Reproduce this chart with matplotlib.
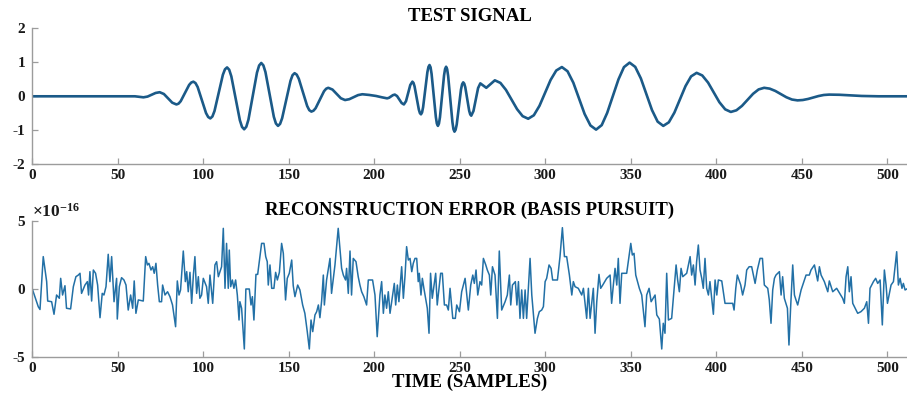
import matplotlib
matplotlib.use("Agg")
import matplotlib.pyplot as plt

plt.rcParams['font.family'] = ['Liberation Serif', 'DejaVu Serif']
plt.rcParams['font.weight'] = 'bold'
plt.rcParams['mathtext.fontset'] = 'custom'
plt.rcParams['mathtext.rm'] = 'Liberation Serif'
plt.rcParams['mathtext.bf'] = 'Liberation Serif:bold'

# ---------------- data ----------------
sig_t = [0, 56, 60, 65, 67.4, 69.75, 72.1,
         74.5, 76.95, 79.4, 81.85,
         84.3, 85.54, 86.8, 89.25, 91.7, 92.96,
         94.2, 95.44, 96.7, 99.15, 101.6, 102.86,
         104.1, 105.33, 106.55, 109.0, 111.45, 112.67,
         113.9, 115.15, 116.4, 118.9, 121.4, 122.65,
         123.9, 125.15, 126.4, 128.9, 131.4, 132.65,
         133.9, 135.13, 136.35, 138.8, 141.25, 142.47,
         143.7, 144.91, 146.1, 148.55, 151.0, 152.19,
         153.4, 154.63, 155.85, 158.3, 160.75, 161.97,
         163.2, 164.44, 165.7, 168.15, 170.6, 171.86,
         173.1, 175.55, 178.0, 180.45,
         182.9, 185.4, 187.95, 190.5,
         193, 197, 201, 204.5,
         207.5, 208.6, 209.75, 210.9,
         212, 213.3, 214.65, 216.0,
         217.3, 218.55, 219.8, 221.05,
         222.3, 222.93, 223.55, 224.8, 226.05, 226.68,
         227.3, 227.93, 228.55, 229.8, 231.05, 231.68,
         232.3, 232.91, 233.5, 234.75, 236.0, 236.59,
         237.2, 237.8, 238.4, 239.6, 240.8, 241.4,
         242, 242.61, 243.2, 244.45, 245.7, 246.29,
         246.9, 247.54, 248.2, 249.45, 250.7, 251.36,
         252, 252.59, 253.2, 254.35, 255.5, 256.11,
         256.7, 258.0, 259.35, 260.7,
         262, 263.75, 265.5, 268,
         270.5, 273.75, 277.0, 280.25, 283.5, 286.75,
         290, 293.3, 296.6, 299.85, 303.1, 306.4,
         309.7, 313.0, 316.4, 319.7, 323.0, 326.4,
         329.7, 333.0, 336.2, 339.5, 342.8, 346.0,
         349.3, 352.6, 355.9, 359.15, 362.4, 365.7,
         369, 372.25, 375.5, 378.75, 382.0, 385.25,
         388.5, 391.8, 395.2, 398.5, 401.8, 405.2,
         408.5, 411.75, 415.0, 418.25, 421.5, 424.75,
         428, 431.25, 434.5, 437.75, 441, 444.25,
         447.5, 450.6, 453.7, 456.75, 459.8, 462.9,
         466, 472, 478, 485, 495, 511]
sig_v = [0, 0, 0, -0.03, -0.008, 0.045, 0.098,
         0.12, 0.068, -0.06, -0.188,
         -0.24, -0.215, -0.143, 0.095, 0.333, 0.405,
         0.43, 0.389, 0.273, -0.11, -0.493, -0.609,
         -0.65, -0.593, -0.433, 0.10, 0.633, 0.793,
         0.85, 0.781, 0.586, -0.06, -0.706, -0.901,
         -0.97, -0.896, -0.687, 0.005, 0.697, 0.906,
         0.98, 0.91, 0.712, 0.055, -0.602, -0.80,
         -0.87, -0.811, -0.645, -0.095, 0.455, 0.621,
         0.68, 0.637, 0.516, 0.115, -0.286, -0.407,
         -0.45, -0.423, -0.349, -0.10, 0.149, 0.223,
         0.25, 0.198, 0.07, -0.058,
         -0.11, -0.085, -0.025, 0.035,
         0.06, 0.04, 0.01, -0.03,
         -0.06, -0.044, -0.005, 0.034,
         0.05, 0.008, -0.095, -0.198,
         -0.24, -0.143, 0.095, 0.333,
         0.43, 0.394, 0.291, -0.05, -0.391, -0.494,
         -0.53, -0.475, -0.32, 0.195, 0.71, 0.865,
         0.92, 0.852, 0.66, 0.025, -0.61, -0.802,
         -0.87, -0.804, -0.617, 0.0, 0.617, 0.804,
         0.87, 0.797, 0.593, -0.085, -0.763, -0.967,
         -1.04, -0.985, -0.83, -0.315, 0.20, 0.355,
         0.41, 0.373, 0.268, -0.08, -0.428, -0.533,
         -0.57, -0.432, -0.095, 0.242,
         0.38, 0.315, 0.25, 0.36,
         0.47, 0.394, 0.188, -0.095, -0.378, -0.584,
         -0.66, -0.558, -0.28, 0.10, 0.48, 0.758,
         0.86, 0.737, 0.40, -0.06, -0.52, -0.857,
         -0.98, -0.848, -0.488, 0.005, 0.498, 0.858,
         0.99, 0.865, 0.525, 0.06, -0.405, -0.745,
         -0.87, -0.765, -0.48, -0.09, 0.30, 0.585,
         0.69, 0.613, 0.403, 0.115, -0.173, -0.383,
         -0.46, -0.412, -0.283, -0.105, 0.073, 0.202,
         0.25, 0.225, 0.158, 0.065, -0.028, -0.095,
         -0.12, -0.109, -0.078, -0.035, 0.008, 0.039,
         0.05, 0.045, 0.03, 0.01, 0.0, 0.0]

err_t = [0, 3.5, 4.5, 6.4, 8.4, 9, 11.3, 12.7, 14.2, 15.8, 16.6, 17.7, 19.1, 20, 22.4, 24, 25.5, 26.9,
         27.9, 28.8, 30.8, 32.2, 32.9, 33.7, 34.7, 35.7, 37, 38.2, 39.6, 40.9, 41.9, 43.1, 44.4, 45.4,
         46.4, 47.8, 49.3, 49.7, 50.9, 52.2, 53.6, 54.8, 56.1, 57.5, 58.7, 59.6, 60.6, 62, 64.9, 66.3,
         67.3, 68.2, 69.4, 70.4, 71.3, 72.3, 73.3, 74.3, 75.6, 76.2, 77.6, 79.1, 80.5, 82, 83.8, 84.8,
         85.8, 86.7, 88.3, 89.5, 90.3, 91.2, 92.2, 93.2, 94.2, 95.1, 96.1, 97.1, 98, 99, 100, 101.9,
         102.9, 103.9, 105.5, 106.8, 107.8, 108.8, 110.7, 111.7, 112.7, 113.6, 114.6, 115.2, 116,
         117, 117.9, 118.9, 119.9, 120.9, 121.4, 122.4, 124, 124.9, 126.9, 127.9, 128.7, 129.6,
         130.8, 131.8, 134.1, 135.5, 136.5, 137.4, 138, 139, 140, 141.3, 142.3, 143.3, 144.5, 145.8,
         146.8, 148.1, 149.1, 150.3, 151.7, 152.6, 153.6, 155.2, 156.5, 158.1, 159.4, 160.8, 162,
         163, 164, 165.3, 166.3, 167.3, 168.2, 169.2, 170.2, 170.8, 172.1, 174.1, 175, 177, 178,
         178.9, 179.9, 180.9, 181.9, 183.2, 183.8, 184.8, 185.8, 186.7, 187.7, 189.3, 190.6, 191.6,
         192.6, 193.9, 195.5, 196.5, 199, 200.4, 201.7, 203.3, 204.3, 205.3, 206.2, 207.2, 208.2,
         209.2, 210.7, 211.7, 212.5, 213.5, 214.4, 216, 217, 218, 218.9, 219.9, 220.9, 221.9, 222.8,
         223.8, 224.8, 225.7, 226.3, 227.3, 228.1, 229, 231, 232, 232.9, 233.9, 235.9, 236.8, 238.8,
         239.8, 241, 242.3, 243.3, 244.3, 245.9, 247.4, 248.2, 249.8, 251.1, 253.1, 255, 256.4,
         257.6, 258.5, 259.5, 260.5, 261.8, 262.8, 263.8, 265.2, 266.1, 267.3, 268.1, 269.1, 270.6,
         272, 273.1, 274.5, 276.5, 277.8, 279, 279.8, 280.8, 282.5, 283.4, 284.3, 285.2, 286.2,
         287.2, 288.2, 289.1, 290.1, 291.1, 292.1, 294, 295.4, 296.5, 297.9, 298.9, 299.9, 300.8,
         302.2, 303.4, 304.3, 307.1, 308.6, 310, 311.2, 312.5, 314.1, 315.5, 316.4, 317.4, 319.3,
         321.3, 322.3, 324.2, 325.2, 326.2, 328.1, 329.1, 330.1, 331.4, 332.4, 333.6, 335.9, 337.9,
         338.8, 339.8, 340.8, 341.8, 342.7, 343.7, 344.7, 347.6, 350, 350.9, 351.9, 352.9, 355,
         356.4, 358.3, 359.3, 360.7, 361.9, 364.2, 365.2, 366.7, 368.1, 369, 370, 371, 372, 373.9,
         375.3, 376.5, 377.4, 378.4, 379.4, 380.4, 382.7, 384.7, 385.6, 386.6, 387.6, 388.5, 389.5,
         390.5, 391.5, 392.4, 393.4, 394.4, 395.4, 396.3, 398.3, 399.3, 400.3, 401.2, 403.2, 405.1,
         409.6, 410.4, 411.4, 412.3, 413.3, 414.3, 415.4, 416.8, 417.8, 419.2, 420.7, 422.7, 424,
         425.6, 427, 428.1, 430.1, 431, 432, 433, 434, 434.9, 436.9, 437.9, 438.8, 439.8, 441.6,
         442.5, 443.5, 444.7, 445.7, 446.6, 447.6, 449.6, 451.5, 452.5, 454.4, 455.4, 457.4, 459.3,
         460.3, 461.3, 463.2, 465.2, 466.1, 468.1, 470.4, 472.8, 473.9, 474.9, 475.9, 476.9, 477.8,
         478.8, 479.8, 481.7, 482.7, 484.6, 486.6, 488, 489, 489.9, 491.9, 493.2, 494.4, 495.8,
         497.1, 498.3, 499.3, 500.1, 502.2, 503.6, 505.5, 506.5, 507.5, 508.6, 509.4, 510.4, 511.4]
err_v = [0, -1.3, -1.5, 2.37, 0.54, -0.88, -0.93, -1.85, -0.44, -0.68, 0.78, -0.44, 0.24, -1.41, -1.46,
         0.17, 0.9, 1.02, 1.15, -0.32, 0.29, 0.54, -0.44, 1.27, -0.88, 1.39, 1.15, 0.29, -2.1, -0.32,
         -0.44, 0.17, 2.54, 0.54, 2.37, -0.93, 0.78, -2.2, 0.17, 0.83, 0.66, 0.29, -1.54, -0.44, -1.41,
         0.59, -1.78, -0.8, -0.88, 2.37, 1.76, 1.88, 1.39, 1.63, 1.15, 1.88, 0.29, -0.93, -0.93, 0.29,
         -0.44, -0.2, -0.56, -1.17, -2.76, 0.59, -0.44, -0.07, 2.78, 0.54, 1.27, -0.2, 1.22, -1.05,
         1.02, 2.37, -0.32, 0.9, -0.68, -0.44, 0.78, 0.17, -1.05, 1.02, -1.05, 1.76, 2.0, 0.9, 1.63,
         4.44, 0.05, 3.34, 0.05, 2.85, 0.17, 0.66, 0.05, 0.66, -0.44, -2.27, -0.93, -1.41, -4.39, 0,
         0, -1.17, -0.56, -2.27, 1.07, 1.07, 3.34, 3.34, 2.37, 2.0, 0.29, 1.76, 0.05, 0.05, 1.22,
         0.66, 1.22, 3.34, 2.61, -0.8, 0.78, 1.15, 2.12, 0.24, -0.56, 0.29, -0.07, -1.17, -1.78,
         -3.12, -4.39, -2.27, -3.12, -1.9, -1.66, -1.17, -2.1, -0.88, 1.02, -1.17, 0.66, 2.24, -0.32,
         1.76, 3.22, 4.44, 2.98, 1.51, 1.02, 0.66, 1.51, -0.32, 2.78, -0.44, 2.24, 2.0, 0.9, 0.29,
         -0.2, -0.56, -1.17, 0.66, 0.66, -0.44, -3.49, -0.44, 0.54, -1.78, -0.44, -1.41, -0.2, -1.78,
         -0.44, 0.41, -1.17, 0.29, -0.93, 1.63, -0.68, 1.02, 3.1, 2.12, 2.24, 1.27, 1.88, 2.24, 2.24,
         0.54, 1.15, -0.44, 0.78, 0.05, -1.41, -3.24, 1.15, -0.68, 1.15, -1.17, 1.15, 1.15, -1.17,
         -1.17, -1.54, 0.05, -2.15, -2.15, -1.17, -1.66, -0.2, 0.78, -1.54, 0.29, 1.02, 0.41, 1.39,
         -0.44, 0.54, 0.29, 2.24, 1.76, 1.39, 1.02, -0.44, 1.63, 1.02, -2.15, 2.78, -1.54, -0.93,
         -0.44, 1.02, -1.17, 0.29, 0.54, -1.17, 0.54, -2.15, -0.07, -2.15, -0.07, -2.15, 0.05, 2.24,
         -0.44, -3.24, -2.15, -1.66, -1.54, -1.29, 0.54, 0.78, 1.76, 1.51, 0.66, 0.66, 2.37, 4.49,
         2.37, 2.37, 1.02, -0.44, 0.54, 0.17, 0.05, -0.44, 0.05, -2.15, 0.05, -2.15, 0.05, -3.24,
         -0.93, 1.07, 0.05, 0.29, 0.78, 1.02, -1.05, 0.29, 1.51, 0.29, 2.24, -1.05, 1.15, 1.15, 3.34,
         2.49, 2.61, 1.02, 0.05, -0.44, -2.76, -0.44, 0.05, -0.93, -0.44, -1.9, -2.2, -4.39, -2.51,
         -3.24, 1.15, -2.27, -2.15, -0.07, 1.76, 0.66, -0.2, 1.51, 0.9, 1.15, 2.37, 1.02, 1.76, 0.29,
         2.0, 3.22, 1.39, 0.78, 0.05, 2.24, 0.05, -0.44, 0.54, -1.85, 0.66, -0.44, 0.66, 0.59, -1.05,
         -1.05, -1.54, 0.05, 1.02, 0.66, 0.29, -0.44, 0.29, 1.39, 1.63, 1.63, 0.41, 1.39, 2.24, 2.24,
         0.29, 0.05, -0.8, -2.51, -0.07, 0.78, 1.02, 1.27, -0.44, 0.9, -0.68, -1.41, -4.1, -1.29,
         1.76, -0.44, -0.8, -1.17, -0.07, 0.66, 1.02, 1.02, 1.39, 1.76, 0.59, 1.63, 1.02, 0.54, -0.2,
         0.59, -0.2, 0.05, -0.44, -0.68, -1.05, 0.9, 1.63, -0.2, 0.9, -1.05, -1.54, -1.78, -1.66,
         -1.41, -0.93, -2.51, 0.05, 0.54, 0.78, 0.41, 0.66, -2.63, 1.39, 0.29, -1.05, 0.29, 0.54,
         2.73, 0.29, 0.78, 0.05, 0.41, -0.07, 0.0]

x_ticks = [0, 50, 100, 150, 200, 250, 300, 350, 400, 450, 500]
sig_yticks = [-2, -1, 0, 1, 2]
err_yticks = [-5, 0, 5]

title_top = 'TEST SIGNAL'
title_bot = 'RECONSTRUCTION ERROR (BASIS PURSUIT)'
xlabel = 'TIME (SAMPLES)'

# ---------------- figure ----------------
W, H = 907, 396
fig = plt.figure(figsize=(W / 100, H / 100), dpi=100)

left = 32.3 / W
width = (907.8 - 32.3) / W
ax1 = fig.add_axes([left, 1 - 164.3 / H, width, 136.0 / H])
ax2 = fig.add_axes([left, 1 - 357.3 / H, width, 136.6 / H])

spine_c = '#9c9c9c'
for ax in (ax1, ax2):
    for s in ('top', 'right'):
        ax.spines[s].set_visible(False)
    for s in ('left', 'bottom'):
        ax.spines[s].set_color(spine_c)
        ax.spines[s].set_linewidth(1.0)
    ax.tick_params(direction='in', length=4.5, width=0.9, color=spine_c,
                   labelsize=11, labelcolor='#1a1a1a')
    ax.tick_params(axis='x', pad=3.5)
    ax.tick_params(axis='y', pad=5)
    ax.set_xlim(0, 512)
    ax.set_xticks(x_ticks)
    for lab in ax.get_xticklabels() + ax.get_yticklabels():
        lab.set_fontweight('bold')

ax1.plot(sig_t, sig_v, color='#1b5a88', lw=1.9, solid_joinstyle='round')
ax1.set_ylim(-2, 2)
ax1.set_yticks(sig_yticks)
ax1.set_yticklabels([str(v) for v in sig_yticks], fontweight='bold')
ax1.set_title(title_top, fontsize=13.5, fontweight='bold', pad=5)

ax2.plot(err_t, err_v, color='#2270a6', lw=1.1)
ax2.set_ylim(-5, 5)
ax2.set_yticks(err_yticks)
ax2.set_yticklabels([str(v) for v in err_yticks], fontweight='bold')
ax2.set_title(title_bot, fontsize=13.5, fontweight='bold', pad=4)
ax2.set_xlabel(xlabel, fontsize=13.5, fontweight='bold', labelpad=-1)
ax2.text(0.0, 1.0, r'$\times\mathbf{10^{-16}}$', transform=ax2.transAxes,
         fontsize=12.5, ha='left', va='bottom', color='#1a1a1a')

fig.savefig('out.png', dpi=100)
